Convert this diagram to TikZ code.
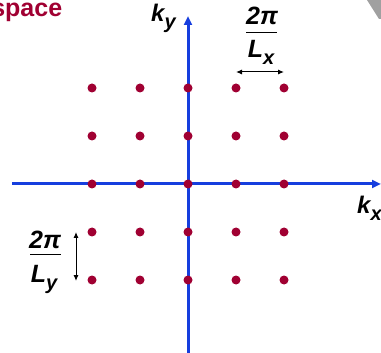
\documentclass[tikz,border=0pt]{standalone}
\usepackage{fontspec}
\setmainfont{Liberation Sans}
\usetikzlibrary{arrows.meta}
\definecolor{axisblue}{RGB}{22,62,222}
\definecolor{dotred}{RGB}{160,0,50}
\definecolor{edgegray}{RGB}{160,160,160}
\newcommand\mysub[1]{\raisebox{-0.28em}{\fontsize{20}{20}\selectfont #1}}
\tikzset{
  axisline/.style={draw=axisblue, line width=3pt, -{Triangle[length=9pt,width=8pt]}},
  latdot/.style={circle, fill=dotred, inner sep=0pt, minimum size=9pt},
  lbl/.style={inner sep=0pt, font=\bfseries\itshape\fontsize{25}{25}\selectfont},
  axlbl/.style={inner sep=0pt, font=\bfseries\itshape\fontsize{24}{24}\selectfont},
  spacing/.style={draw=black, line width=1pt, {Latex[length=6pt,width=5pt]}-{Latex[length=6pt,width=5pt]}},
  fracbar/.style={draw=black, line width=1pt}
}
\begin{document}
\begin{tikzpicture}[x=1pt,y=-1pt]
\useasboundingbox (0,0) rectangle (381,353);
\begin{scope}
\clip (0,0) rectangle (381,353);
% cropped shape at top right
\fill[edgegray] (367,0) -- (381,0) -- (381,19) -- (379,19) -- cycle;
% cropped title
\node[anchor=base west, inner sep=0pt, text=dotred, font=\bfseries\fontsize{25}{25}\selectfont] (title) at (5,17) {\llap{s}pace};
% axes
\coordinate (xs) at (12,184);
\coordinate (xe) at (381,184);
\coordinate (ys) at (188,353);
\coordinate (ye) at (188,16);
\draw[axisline] (xs) -- (xe);
\draw[axisline] (ys) -- (ye);
\end{scope}
% lattice
\foreach \i [count=\ci] in {92,140,188,236,284}{
  \foreach \j [count=\cj] in {88,136,184,232,280}{
    \node[latdot] (d-\ci-\cj) at (\i,\j) {};
  }
}
% axis labels
\node[axlbl, anchor=base west] (ky) at (151,22) {k\mysub{y}};
\node[axlbl, anchor=base west] (kx) at (357,214) {k\mysub{x}};
% 2pi/Lx
\node[lbl, anchor=base] (nx) at (262,25) {2π};
\coordinate (bx1) at (246,33);
\coordinate (bx2) at (277,33);
\draw[fracbar] (bx1) -- (bx2);
\node[lbl, anchor=base] (lx) at (261,58) {L\mysub{x}};
\coordinate (ax1) at (236,72);
\coordinate (ax2) at (284,72);
\draw[spacing] (ax1) -- (ax2);
% 2pi/Ly
\node[lbl, anchor=base] (ny) at (45,248) {2π};
\coordinate (by1) at (30,255);
\coordinate (by2) at (61,255);
\draw[fracbar] (by1) -- (by2);
\node[lbl, anchor=base] (ly) at (44,282) {L\mysub{y}};
\coordinate (ay1) at (76,232);
\coordinate (ay2) at (76,281);
\draw[spacing] (ay1) -- (ay2);
\end{tikzpicture}
\end{document}
